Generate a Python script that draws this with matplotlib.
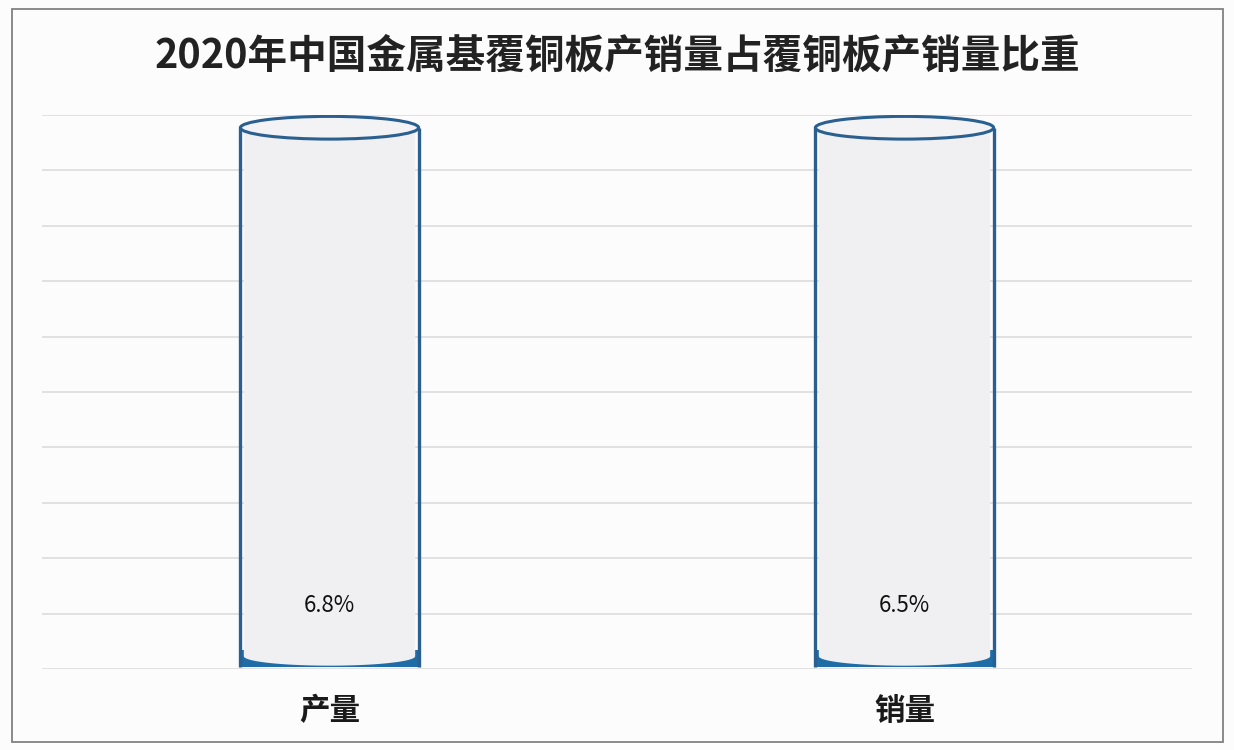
import matplotlib
matplotlib.use("Agg")
import matplotlib.pyplot as plt
from matplotlib.patches import Ellipse, Rectangle, Polygon
import numpy as np

plt.rcParams['font.family'] = ['Noto Sans CJK SC', 'DejaVu Sans']

# ---- data ----
categories = ["产量", "销量"]
values = [6.8, 6.5]          # share, %
totals = [100, 100]          # full cylinder (100%)
title = "2020年中国金属基覆铜板产销量占覆铜板产销量比重"

# ---- style ----
W, H = 1234, 750
fig = plt.figure(figsize=(W / 100, H / 100), dpi=100)
fig.patch.set_facecolor("#FDFCFD")

ax_left, ax_right = 42 / W, 1192 / W
ax_bottom, ax_top = (H - 669) / H, (H - 115) / H
ax = fig.add_axes([ax_left, ax_bottom, ax_right - ax_left, ax_top - ax_bottom])
ax.set_facecolor("none")
ax.set_xlim(-0.5, 1.5)
ax.set_ylim(0, 100)
ax.set_yticks(np.arange(0, 101, 10))
ax.yaxis.grid(True, color="#D9D9D9", lw=1.1)
ax.set_axisbelow(True)
ax.tick_params(axis="y", length=0, labelleft=False)
for s in ax.spines.values():
    s.set_visible(False)

ax.set_xticks(range(len(categories)))
ax.set_xticklabels(categories, fontsize=22, fontweight="bold", color="#1a1a1a")
ax.tick_params(axis="x", length=0, pad=19)

outline = "#2A5F8F"
fill = "#F0EFF2"
top_fill = "#F3F3F6"
blue = "#1F6DA6"
bw = 0.31
ell_h = 4.1
top_off = 2.3  # top ellipse centre below the total line

for i, (v, t) in enumerate(zip(values, totals)):
    x0, x1 = i - bw / 2, i + bw / 2
    top = t - top_off
    base = 0.35
    # blue base sliver
    ax.add_patch(Rectangle((x0, base), bw, 3.0, facecolor=blue, edgecolor="none", zorder=2))
    # grey body with curved bottom
    th = np.linspace(np.pi, 2 * np.pi, 60)
    arc_x = i + (bw / 2 - 0.006) * np.cos(th)
    arc_y = 2.3 + 1.7 * np.sin(th)
    pts = [(x0 + 0.006, top)] + list(zip(arc_x, arc_y)) + [(x1 - 0.006, top)]
    ax.add_patch(Polygon(pts, closed=True, facecolor=fill, edgecolor="none", zorder=3))
    # side lines
    ax.plot([x0, x0], [base, top], color=outline, lw=2.4, zorder=4, solid_capstyle="butt")
    ax.plot([x1, x1], [base, top], color=outline, lw=2.4, zorder=4, solid_capstyle="butt")
    # top ellipse
    ax.add_patch(Ellipse((i, top), bw, ell_h, facecolor=top_fill, edgecolor=outline, lw=2.2, zorder=5))
    # value label
    ax.text(i, 11.5, f"{v}%", ha="center", va="center", fontsize=16, fontweight="medium",
            color="#111111", zorder=6)

# title
fig.text(0.5, 1 - 56 / H, title, ha="center", va="center", fontsize=28.5, fontweight="bold", color="#222222")

# outer border
fig.add_artist(Rectangle((12 / W, 1 - 742 / H), (1223 - 12) / W, (742 - 9) / H,
                         transform=fig.transFigure, facecolor="none", edgecolor="#808080", lw=1.3))

fig.savefig("out.png", dpi=100, facecolor=fig.get_facecolor())
